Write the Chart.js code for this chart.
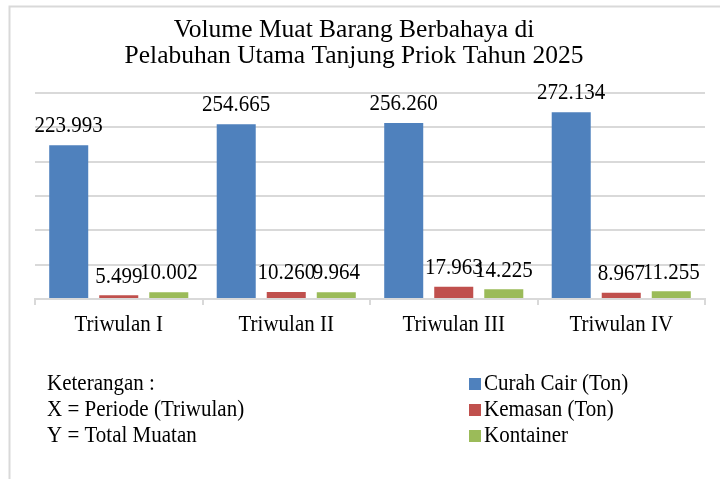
<!DOCTYPE html>
<html>
<head>
<meta charset="utf-8">
<script src="https://cdn.jsdelivr.net/npm/chart.js@4.4.1/dist/chart.umd.min.js"></script>
<style>
  html, body { margin: 0; padding: 0; background: #fff; }
  #wrap { width: 720px; height: 479px; }
</style>
</head>
<body>
<div id="wrap"><canvas id="myChart"></canvas></div>
<script>
const titleLines = ['Volume Muat Barang Berbahaya di', 'Pelabuhan Utama Tanjung Priok Tahun 2025'];
const categories = ['Triwulan I', 'Triwulan II', 'Triwulan III', 'Triwulan IV'];
const curahCair = [223993, 254665, 256260, 272134];
const kemasan = [5499, 10260, 17963, 8967];
const kontainer = [10002, 9964, 14225, 11255];
const seriesLabels = ['Curah Cair (Ton)', 'Kemasan (Ton)', 'Kontainer'];
const seriesColors = ['#4f81bd', '#c0504d', '#9bbb59'];
const notes = ['Keterangan :', 'X = Periode (Triwulan)', 'Y = Total Muatan'];

const serif = "'Liberation Serif', 'Times New Roman', serif";
const smallFont = '24px ' + serif;
const squeeze = 0.875; // text in the picture is a bit narrow

// number like 223993 -> "223.993"
function fmt(v) {
      return String(v).replace(/\B(?=(\d{3})+(?!\d))/g, '.');
}

// draw text squeezed horizontally
function narrowText(ctx, text, x, y) {
      ctx.save();
      ctx.translate(x, y);
      ctx.scale(squeeze, 1);
      ctx.fillText(text, 0, 0);
      ctx.restore();
}

const frame = {
      id: 'frame',
      beforeDraw(chart) {
            const ctx = chart.ctx;
            ctx.save();
            ctx.fillStyle = '#fff';
            ctx.fillRect(0, 0, chart.width, chart.height);
            ctx.strokeStyle = '#d9d9d9';
            ctx.lineWidth = 2;
            ctx.beginPath();
            ctx.moveTo(9.5, chart.height);
            ctx.lineTo(9.5, 6.5);
            ctx.lineTo(chart.width, 6.5);
            ctx.stroke();

            // title, a bit left of the plot centre like the original
            ctx.font = '25.5px ' + serif;
            ctx.fillStyle = '#000';
            ctx.textAlign = 'center';
            ctx.textBaseline = 'alphabetic';
            titleLines.forEach((t, i) => {
                  ctx.fillText(t, 354, 36.5 + i * 26.5);
            });
            ctx.restore();
      }
};

const valueLabels = {
      id: 'valueLabels',
      afterDatasetsDraw(chart) {
            const ctx = chart.ctx;
            ctx.save();
            ctx.font = smallFont;
            ctx.fillStyle = '#000';
            ctx.textAlign = 'center';
            ctx.textBaseline = 'middle';
            chart.data.datasets.forEach((ds, i) => {
                  chart.getDatasetMeta(i).data.forEach((bar, j) => {
                        narrowText(ctx, fmt(ds.data[j]), bar.x, bar.y - 19);
                  });
            });
            ctx.restore();
      }
};

const bottomText = {
      id: 'bottomText',
      afterDraw(chart) {
            const ctx = chart.ctx;
            const xs = chart.scales.x;
            ctx.save();
            ctx.font = smallFont;
            ctx.fillStyle = '#000';
            ctx.textBaseline = 'middle';
            // category names under the axis
            ctx.textAlign = 'center';
            chart.data.labels.forEach((lab, i) => {
                  narrowText(ctx, lab, xs.getPixelForTick(i), chart.chartArea.bottom + 26);
            });
            ctx.textAlign = 'left';
            notes.forEach((t, i) => {
                  narrowText(ctx, t, 47, 384 + i * 26);
            });
            chart.data.datasets.forEach((ds, i) => {
                  const y = 384 + i * 26;
                  ctx.fillStyle = ds.backgroundColor;
                  ctx.fillRect(469, y - 6, 12, 12);
                  ctx.fillStyle = '#000';
                  narrowText(ctx, ds.label, 484, y);
            });
            ctx.restore();
      }
};

new Chart(document.getElementById('myChart'), {
      type: 'bar',
      data: {
            labels: categories,
            datasets: [
                  { label: seriesLabels[0], data: curahCair, backgroundColor: seriesColors[0] },
                  { label: seriesLabels[1], data: kemasan, backgroundColor: seriesColors[1] },
                  { label: seriesLabels[2], data: kontainer, backgroundColor: seriesColors[2] }
            ]
      },
      options: {
            animation: false,
            responsive: true,
            maintainAspectRatio: false,
            categoryPercentage: 0.896,
            barPercentage: 0.78,
            layout: {
                  padding: { left: 35, right: 15, top: 93, bottom: 174 }
            },
            plugins: {
                  legend: { display: false },
                  tooltip: { enabled: false },
                  title: { display: false }
            },
            scales: {
                  x: {
                        grid: {
                              offset: true,
                              drawOnChartArea: false,
                              drawTicks: true,
                              tickLength: 6,
                              color: '#d9d9d9',
                              lineWidth: 2
                        },
                        border: { display: true, color: '#d9d9d9', width: 2 },
                        ticks: { display: false }
                  },
                  y: {
                        min: 0,
                        max: 300000,
                        ticks: { display: false, stepSize: 50000 },
                        grid: { color: '#d9d9d9', lineWidth: 2, drawTicks: false },
                        border: { display: false }
                  }
            }
      },
      plugins: [frame, valueLabels, bottomText]
});
</script>
</body>
</html>
